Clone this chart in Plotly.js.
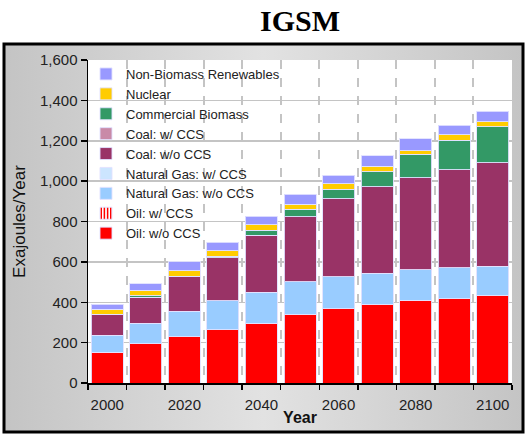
<!DOCTYPE html>
<html>
<head>
<meta charset="utf-8">
<script src="https://cdn.plot.ly/plotly-3.0.1.min.js"></script>
<style>html,body{margin:0;padding:0;background:#fff;}#chart{width:529px;height:436px;}</style>
</head>
<body>
<div id="chart"></div>
<script>
// ---- data ----
var years = [2000, 2010, 2020, 2030, 2040, 2050, 2060, 2070, 2080, 2090, 2100];
var tickLabels = ['2000', '', '2020', '', '2040', '', '2060', '', '2080', '', '2100'];

var oilNoCCS      = [152, 195, 229, 263, 297, 340, 367, 391, 410, 418, 434];
var oilCCS        = [0, 0, 0, 0, 0, 0, 0, 0, 0, 0, 0];
var gasNoCCS      = [84, 101, 126, 145, 152, 162, 160, 152, 151, 152, 144];
var gasCCS        = [0, 0, 0, 0, 0, 0, 0, 0, 0, 0, 0];
var coalNoCCS     = [104, 130, 172, 213, 283, 322, 385, 428, 455, 487, 513];
var coalCCS       = [0, 0, 0, 0, 0, 0, 0, 0, 0, 0, 0];
var biomass       = [0, 6, 2, 8, 24, 36, 49, 76, 117, 145, 179];
var nuclear       = [25, 27, 26, 25, 27, 25, 26, 27, 18, 27, 24];
var renewables    = [26, 33, 45, 43, 44, 51, 43, 51, 59, 49, 52];

var seriesNames = ['Oil: w/o CCS', 'Oil: w/ CCS', 'Natural Gas: w/o CCS', 'Natural Gas: w/ CCS',
  'Coal: w/o CCS', 'Coal: w/ CCS', 'Commercial Biomass', 'Nuclear', 'Non-Biomass Renewables'];
var seriesValues = [oilNoCCS, oilCCS, gasNoCCS, gasCCS, coalNoCCS, coalCCS, biomass, nuclear, renewables];
var seriesColors = ['#ff0000', '#ff0000', '#99ccff', '#cce5ff', '#993366', '#c98aa8', '#339966', '#ffcc00', '#9999ff'];

var traces = seriesNames.map(function (name, i) {
  var marker = {color: seriesColors[i], line: {color: 'rgba(225,225,255,0.9)', width: 1}};
  if (name === 'Oil: w/ CCS') {
    marker = {color: '#ffffff', pattern: {shape: '|', fgcolor: '#ff0000', bgcolor: '#ffffff', size: 4, solidity: 0.5},
              line: {color: 'rgba(225,225,255,0.9)', width: 1}};
  }
  return {
    type: 'bar', name: name, x: years, y: seriesValues[i],
    marker: marker, hoverinfo: 'skip'
  };
});

// plot area in px: x 88..512, y 60..383
var L = 88, R = 512, T = 60, B = 383;
var pw = R - L, ph = B - T;
function px(x) { return (x - L) / pw; }
function py(y) { return (B - y) / ph; }

var grad = 'data:image/svg+xml;utf8,' + encodeURIComponent(
  '<svg xmlns="http://www.w3.org/2000/svg" width="100" height="100" preserveAspectRatio="none">' +
  '<defs><linearGradient id="g" x1="0" y1="0" x2="1" y2="0">' +
  '<stop offset="0" stop-color="#c4c4c4"/><stop offset="0.5" stop-color="#e2e2e2"/><stop offset="1" stop-color="#c4c4c4"/>' +
  '</linearGradient></defs><rect width="100" height="100" fill="url(#g)"/></svg>');

var layout = {
  width: 529, height: 436,
  margin: {l: L, r: 529 - R, t: T, b: 436 - B, pad: 0},
  paper_bgcolor: '#ffffff',
  plot_bgcolor: 'rgba(0,0,0,0)',
  barmode: 'stack',
  bargap: 0.17,
  showlegend: true,
  font: {family: 'Liberation Sans, Arial, sans-serif', size: 15, color: '#222222'},
  title: {
    text: 'IGSM', font: {family: 'Liberation Serif, Times New Roman, serif', size: 30, color: '#000000', weight: 'bold'},
    x: 0.5, xref: 'paper', xanchor: 'center', y: 1 - 20 / 436, yref: 'container', yanchor: 'middle'
  },
  xaxis: {
    type: 'category',
    tickvals: years, ticktext: tickLabels, tickangle: 0, ticklabelstandoff: 7,
    tickson: 'boundaries', ticks: 'outside', ticklen: 5, tickcolor: '#000', tickwidth: 1.5,
    showline: true, linecolor: '#000', linewidth: 1.5,
    showgrid: true, gridcolor: '#c4c4c4', gridwidth: 2, griddash: 'dash',
    tickfont: {size: 15, color: '#222'},
    title: {text: 'Year', font: {size: 16, color: '#111', weight: 'bold'}, standoff: 0},
    automargin: false, fixedrange: true
  },
  yaxis: {
    range: [0, 1600], dtick: 200, tickformat: ',d',
    ticks: 'outside', ticklen: 6, tickcolor: '#000', tickwidth: 1.5,
    showline: true, linecolor: '#000', linewidth: 1.5,
    showgrid: true, gridcolor: '#c4c4c4', gridwidth: 1.5, zeroline: false,
    tickfont: {size: 15, color: '#222'},
    title: {text: 'Exajoules/Year', font: {size: 17, color: '#111'}, standoff: 10},
    automargin: false, fixedrange: true
  },
  legend: {
    x: px(86), y: py(59), xanchor: 'left', yanchor: 'top',
    traceorder: 'reversed', bgcolor: 'rgba(0,0,0,0)', borderwidth: 0,
    font: {size: 13, color: '#222'}, tracegroupgap: 0,
    itemclick: false, itemdoubleclick: false
  },
  images: [{
    source: grad, xref: 'paper', yref: 'paper',
    x: px(4), y: py(44), sizex: px(523) - px(4), sizey: py(44) - py(432),
    sizing: 'stretch', layer: 'below', xanchor: 'left', yanchor: 'top'
  }],
  shapes: [
    {type: 'rect', xref: 'paper', yref: 'paper', x0: 0, x1: 1, y0: 0, y1: 1,
     fillcolor: '#ffffff', line: {width: 0}, layer: 'below'},
    {type: 'rect', xref: 'paper', yref: 'paper', x0: 0, x1: px(330), y0: py(238), y1: 1,
     fillcolor: '#ffffff', line: {width: 0}, layer: 'between'},
    {type: 'rect', xref: 'paper', yref: 'paper', x0: px(4), x1: px(523), y0: py(432), y1: py(44),
     fillcolor: 'rgba(0,0,0,0)', line: {color: '#000000', width: 3}, layer: 'above'}
  ]
};

Plotly.newPlot('chart', traces, layout, {staticPlot: true, displayModeBar: false});
</script>
</body>
</html>
